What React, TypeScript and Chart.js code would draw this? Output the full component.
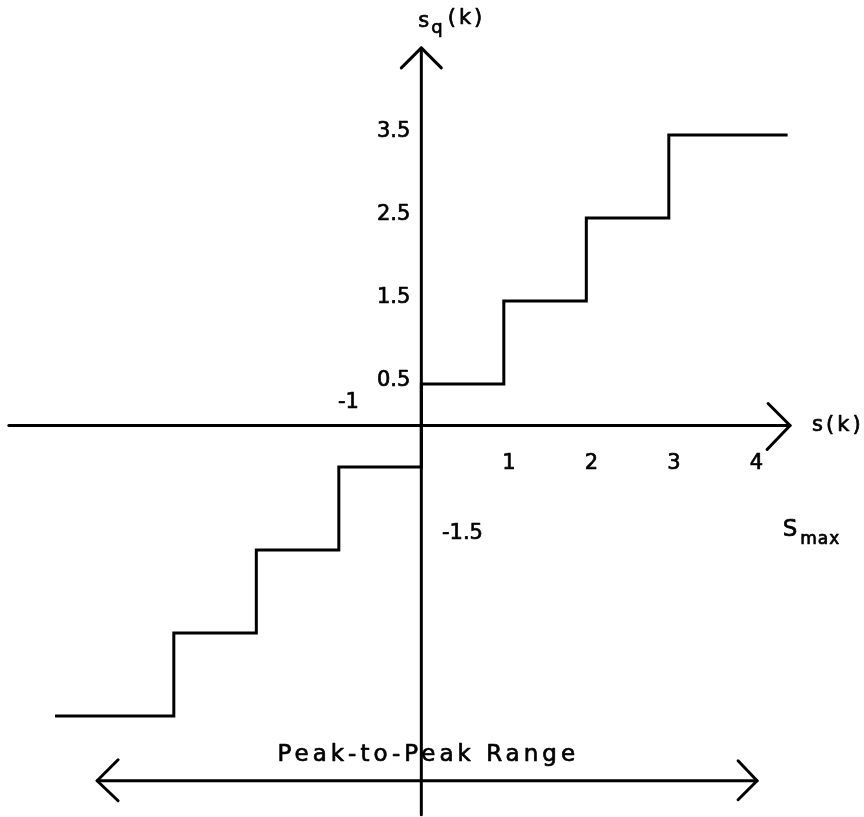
import React, { useEffect, useRef } from 'react';
import { Chart, registerables } from 'chart.js';

Chart.register(...registerables);

// Quantizer staircase: breakpoints on s(k) and output levels s_q(k)
const stepEdges = [-4.44, -3, -2, -1, 0, 1, 2, 3, 4.44];
const stepLevels = [-3.5, -2.5, -1.5, -0.5, 0.5, 1.5, 2.5, 3.5, 3.5];

// Tick labels
const xTickValues = [1, 2, 3, 4];
const xTickLabels = ['1', '2', '3', '4'];
const yTickValues = [0.5, 1.5, 2.5, 3.5];
const yTickLabels = ['0.5', '1.5', '2.5', '3.5'];

// Axis extents (data units)
const xAxisExtent = [-5.0, 4.47];
const yAxisExtent = [-4.69, 4.55];
const rangeArrowLevel = -4.28;
const rangeArrowExtent = [-3.93, 4.07];

// Texts
const xAxisTitle = 's(k)';
const yAxisTitle = { main: 's', sub: 'q', rest: '(k)' };
const sMaxLabel = { main: 'S', sub: 'max' };
const rangeLabel = 'Peak-to-Peak Range';
const extraLabels = ['-1', '-1.5'];

const FONT = '"DejaVu Sans", "Liberation Sans", sans-serif';

function text(ctx: CanvasRenderingContext2D, s: string, x: number, y: number) {
  ctx.fillText(s, x, y);
  ctx.strokeText(s, x, y);
}

const drawPlugin = {
  id: 'diagram',
  afterDatasetsDraw(chart: any) {
    const ctx = chart.ctx as CanvasRenderingContext2D;
    const xs = chart.scales.x;
    const ys = chart.scales.y;
    const px = (v: number) => xs.getPixelForValue(v);
    const py = (v: number) => ys.getPixelForValue(v);
    ctx.save();
    ctx.strokeStyle = '#000';
    ctx.fillStyle = '#000';
    ctx.lineWidth = 3;
    ctx.lineCap = 'round';
    ctx.lineJoin = 'round';

    const x0 = px(0);
    const y0 = py(0);
    // x axis
    ctx.beginPath();
    ctx.moveTo(px(xAxisExtent[0]), y0);
    ctx.lineTo(px(xAxisExtent[1]), y0);
    ctx.stroke();
    // x arrow head
    const xt = px(xAxisExtent[1]);
    ctx.beginPath();
    ctx.moveTo(xt - 22, y0 - 22);
    ctx.lineTo(xt, y0);
    ctx.lineTo(xt - 23, y0 + 24);
    ctx.stroke();
    // y axis
    ctx.beginPath();
    ctx.moveTo(x0, py(yAxisExtent[0]));
    ctx.lineTo(x0, py(yAxisExtent[1]));
    ctx.stroke();
    const yt = py(yAxisExtent[1]);
    ctx.beginPath();
    ctx.moveTo(x0 - 20, yt + 20);
    ctx.lineTo(x0, yt);
    ctx.lineTo(x0 + 20, yt + 20);
    ctx.stroke();
    // Peak-to-peak range arrow
    const ra = py(rangeArrowLevel);
    const rl = px(rangeArrowExtent[0]);
    const rr = px(rangeArrowExtent[1]);
    ctx.beginPath();
    ctx.moveTo(rl, ra);
    ctx.lineTo(rr, ra);
    ctx.stroke();
    ctx.beginPath();
    ctx.moveTo(rl + 21, ra - 21);
    ctx.lineTo(rl, ra);
    ctx.lineTo(rl + 21, ra + 20);
    ctx.stroke();
    ctx.beginPath();
    ctx.moveTo(rr - 19, ra - 20);
    ctx.lineTo(rr, ra);
    ctx.lineTo(rr - 19, ra + 19);
    ctx.stroke();

    // text: thin outline to thicken strokes like the plotter font
    ctx.lineWidth = 0.7;

    // tick labels
    (ctx as any).letterSpacing = '0px';
    ctx.font = `21px ${FONT}`;
    ctx.textBaseline = 'middle';
    ctx.textAlign = 'center';
    xTickValues.forEach((v, i) => {
      text(ctx, xTickLabels[i], px(v) + 5, y0 + 38);
    });
    ctx.textAlign = 'right';
    yTickValues.forEach((v, i) => {
      text(ctx, yTickLabels[i], x0 - 11, py(v) - 3);
    });

    // extra labels
    ctx.textAlign = 'left';
    text(ctx, extraLabels[0], px(-1.01), py(0.28));
    text(ctx, extraLabels[1], px(0.25), py(-1.3));

    // x axis title s(k)
    (ctx as any).letterSpacing = '3px';
    ctx.font = `21px ${FONT}`;
    text(ctx, xAxisTitle, xt + 22, y0);

    // y axis title s_q(k)
    ctx.textBaseline = 'alphabetic';
    (ctx as any).letterSpacing = '1px';
    ctx.font = `21px ${FONT}`;
    const sx = x0 - 3;
    text(ctx, yAxisTitle.main, sx, 27);
    const sw = ctx.measureText(yAxisTitle.main).width;
    ctx.font = `18px ${FONT}`;
    text(ctx, yAxisTitle.sub, sx + sw + 1, 33);
    const qw = ctx.measureText(yAxisTitle.sub).width;
    (ctx as any).letterSpacing = '3px';
    ctx.font = `21px ${FONT}`;
    text(ctx, yAxisTitle.rest, sx + sw + qw + 5, 24);

    // S_max
    (ctx as any).letterSpacing = '1px';
    ctx.font = `23px ${FONT}`;
    const mx = px(4.38);
    const my = py(-1.26);
    ctx.textBaseline = 'middle';
    text(ctx, sMaxLabel.main, mx, my);
    const Sw = ctx.measureText(sMaxLabel.main).width;
    ctx.font = `17px ${FONT}`;
    text(ctx, sMaxLabel.sub, mx + Sw + 2, my + 9);

    // Peak-to-peak label
    (ctx as any).letterSpacing = '4px';
    ctx.font = `23px ${FONT}`;
    ctx.textAlign = 'center';
    text(ctx, rangeLabel, px(0.06) + 2, py(-3.97));
    ctx.restore();
  },
};

export default function App() {
  const ref = useRef<HTMLCanvasElement | null>(null);
  useEffect(() => {
    if (!ref.current) return;
    const chart = new Chart(ref.current, {
      type: 'line',
      data: {
        datasets: [
          {
            data: stepEdges.map((x, i) => ({ x, y: stepLevels[i] })),
            stepped: 'before',
            borderColor: '#000',
            borderWidth: 3,
            pointRadius: 0,
            fill: false,
          },
        ],
      },
      options: {
        animation: false,
        responsive: false,
        maintainAspectRatio: false,
        devicePixelRatio: 1,
        layout: { padding: 0 },
        plugins: { legend: { display: false }, tooltip: { enabled: false }, title: { display: false } },
        scales: {
          x: { type: 'linear', display: false, min: -5.107, max: 5.366 },
          y: { type: 'linear', display: false, min: -4.717, max: 5.127 },
        },
      },
      plugins: [drawPlugin],
    });
    return () => chart.destroy();
  }, []);
  return (
    <div style={{ position: 'absolute', left: 0, top: 0, width: 864, height: 817, background: '#fff' }}>
      <canvas ref={ref} width={864} height={817} style={{ width: 864, height: 817, display: 'block' }} />
    </div>
  );
}
